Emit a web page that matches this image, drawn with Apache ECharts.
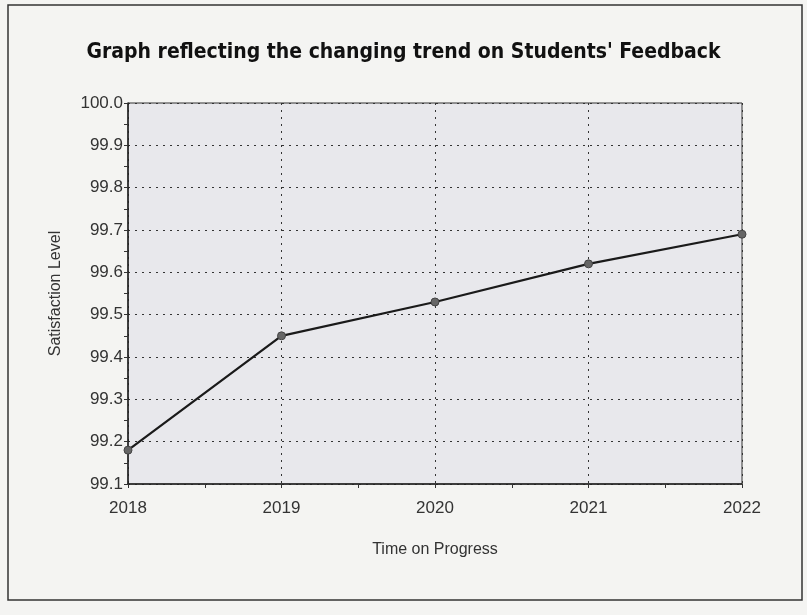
<!DOCTYPE html>
<html>
<head>
<meta charset="utf-8">
<script src="https://cdn.jsdelivr.net/npm/echarts@6/dist/echarts.min.js"></script>
<style>
html,body{margin:0;padding:0;background:#f4f4f2;}
#c{width:807px;height:615px;}
</style>
</head>
<body>
<div id="c"></div>
<script>
const years = [2018, 2019, 2020, 2021, 2022];
const satisfaction = [99.18, 99.45, 99.53, 99.62, 99.69];
const yTicks = [99.1, 99.2, 99.3, 99.4, 99.5, 99.6, 99.7, 99.8, 99.9, 100.0];

const chart = echarts.init(document.getElementById('c'));
chart.setOption({
  backgroundColor: '#f4f4f2',
  animation: false,
  title: {
    text: "Graph reflecting the changing trend on Students' Feedback",
    left: 'center',
    top: 37,
    textStyle: {fontFamily: 'DejaVu Sans Condensed, DejaVu Sans', fontWeight: 'bold', fontSize: 21, color: '#111'}
  },
  graphic: [{
    type: 'rect', shape: {x: 8, y: 5, width: 794, height: 595},
    style: {fill: 'none', stroke: '#333', lineWidth: 1.5}, silent: true
  }],
  grid: {left: 128, right: 65, top: 103, bottom: 131, show: true,
    backgroundColor: '#e8e8ec', borderColor: '#333', borderWidth: 1},
  xAxis: {
    type: 'value', min: years[0], max: years[years.length - 1], interval: 1,
    name: 'Time on Progress', nameLocation: 'middle', nameGap: 58,
    nameTextStyle: {fontFamily: 'Liberation Sans', fontSize: 16, color: '#333'},
    axisLine: {show: true, lineStyle: {color: '#222', width: 1.5}},
    axisTick: {show: true, length: 4, lineStyle: {color: '#333'}},
    minorTick: {show: true, splitNumber: 2, length: 4, lineStyle: {color: '#333'}},
    axisLabel: {fontFamily: 'Liberation Sans', fontSize: 17, color: '#333', margin: 16,
      formatter: v => String(v)},
    splitLine: {show: true, lineStyle: {type: [2, 5], color: '#333', width: 1}}
  },
  yAxis: {
    type: 'value', min: yTicks[0], max: yTicks[yTicks.length - 1], interval: 0.1,
    name: 'Satisfaction Level', nameLocation: 'middle', nameGap: 64,
    nameTextStyle: {fontFamily: 'Liberation Sans', fontSize: 16, color: '#333'},
    axisLine: {show: true, lineStyle: {color: '#222', width: 1.5}},
    axisTick: {show: true, length: 4, lineStyle: {color: '#333'}},
    minorTick: {show: true, splitNumber: 2, length: 4, lineStyle: {color: '#333'}},
    axisLabel: {fontFamily: 'Liberation Sans', fontSize: 17, color: '#333', margin: 5,
      formatter: v => Number(v).toFixed(1)},
    splitLine: {show: true, lineStyle: {type: [2, 5], color: '#333', width: 1}}
  },
  series: [{
    type: 'line',
    data: years.map((y, i) => [y, satisfaction[i]]),
    symbol: 'circle', symbolSize: 8,
    itemStyle: {color: '#666', borderColor: '#444', borderWidth: 1},
    lineStyle: {color: '#1a1a1a', width: 2.2}
  }]
});
</script>
</body>
</html>
